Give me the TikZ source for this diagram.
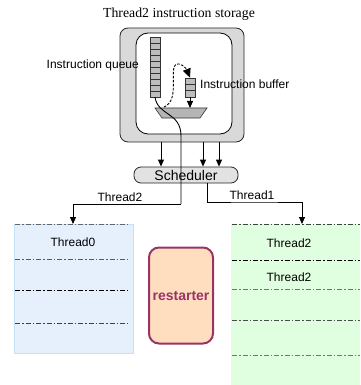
\documentclass[tikz,border=0pt]{standalone}
\usepackage{fontspec}
\setmainfont{Liberation Serif}
\setsansfont{Liberation Sans}
\usetikzlibrary{arrows.meta}
\definecolor{storegray}{HTML}{D9D9D9}
\definecolor{cellgray}{HTML}{BDBDBD}
\definecolor{muxgray}{HTML}{B5B5B5}
\definecolor{schedgray}{HTML}{E2E2E2}
\definecolor{bluefill}{HTML}{E6F0FC}
\definecolor{blueedge}{HTML}{C6E0FA}
\definecolor{greenfill}{HTML}{E0FFE0}
\definecolor{peach}{HTML}{FFDEC0}
\definecolor{plum}{HTML}{993366}
\begin{document}
\begin{tikzpicture}[x=1pt,y=-1pt,
  lbl/.style={font=\sffamily\fontsize{12}{14}\selectfont, inner sep=0pt},
  arr/.style={line width=0.9pt, -{Triangle[length=7pt,width=6pt]}},
  wire/.style={line width=0.9pt},
  cell/.style={draw=black!80, fill=cellgray, line width=0.6pt, inner sep=0pt, minimum width=10pt},
  sepline/.style={line width=0.8pt, dash pattern=on 5pt off 2pt on 1.5pt off 2pt},
  regbox/.style={inner sep=0pt, anchor=north west}]
\useasboundingbox (0,0) rectangle (360,385);

% title
\node[font=\fontsize{13.8}{16}\selectfont, inner sep=0pt] (title) at (179,14) {Thread2 instruction storage};

% storage housing
\node[draw=black!85, fill=storegray, rounded corners=8pt, line width=0.8pt,
      minimum width=124pt, minimum height=114pt, inner sep=0pt] (outer) at (182,85) {};
\node[draw=black, fill=white, rounded corners=12pt, line width=0.8pt,
      minimum width=96pt, minimum height=101pt, inner sep=0pt] (inner) at (184,83.5) {};

% instruction queue (10 slots)
\node[cell, minimum height=60pt] (queue) at (155,67) {};
\foreach \k in {1,...,9}
  \draw[black!80, line width=0.6pt] (150,37+6*\k) -- (160,37+6*\k);

% instruction buffer (3 slots)
\node[cell, minimum height=19pt] (buffer) at (190,87.5) {};
\foreach \k in {1,2}
  \draw[black!80, line width=0.6pt] (185,78+6.33*\k) -- (195,78+6.33*\k);

% selector
\draw[draw=black!80, fill=muxgray, line width=0.6pt] (155,108) -- (207,108) -- (200,118) -- (162,118) -- cycle;
\coordinate (muxtop) at (190,108);
\coordinate (muxleft) at (164,107);

\draw[arr] (buffer.south) -- (muxtop);
\draw[line width=0.9pt, dash pattern=on 2.5pt off 1.5pt, -{Triangle[length=9pt,width=8pt]}]
  (muxleft) .. controls (182,100) and (166,62) .. (179,64)
            .. controls (184,65) and (187,70) .. (buffer.north);

% texts around the storage
\node[lbl, anchor=base east] (qlabel) at (139,69) {Instruction queue};
\node[lbl, anchor=base west] (blabel) at (200,89) {Instruction buffer};

% scheduler
\node[draw=black!85, fill=schedgray, rounded corners=7pt, line width=0.8pt,
      minimum width=104pt, minimum height=16pt, inner sep=0pt,
      font=\sffamily\fontsize{14}{16}\selectfont] (sched) at (186,175) {Scheduler};

\foreach \xx in {161,203,219}
  \draw[arr] (outer.south -| \xx,0) -- (sched.north -| \xx,0);

% thread regions
\node[regbox, draw=blueedge, fill=bluefill, line width=0.6pt,
      minimum width=119pt, minimum height=129pt] (thread0) at (14,224) {};
\node[regbox, fill=greenfill, minimum width=129pt, minimum height=161pt] (thread1) at (231,224) {};

\draw[sepline, black!60] (15,224) -- (128,224);
\draw[sepline, black!65] (15,259) -- (128,259);
\draw[sepline, black]    (15,290) -- (128,290);
\draw[sepline, black!75] (15,323) -- (128,323);

\draw[sepline, black!75] (232,224) -- (360,224);
\draw[sepline, black]    (232,260) -- (360,260);
\draw[sepline, black!55] (232,289) -- (360,289);
\draw[sepline, black!70] (232,320) -- (360,320);
\draw[sepline, black!55] (232,355) -- (360,355);

\node[lbl, anchor=base] (t0name) at (73,246) {Thread0};
\node[lbl, anchor=base] (t1nameA) at (289,247) {Thread2};
\node[lbl, anchor=base] (t1nameB) at (289,281) {Thread2};

% restarter
\node[draw=plum, fill=peach, line width=2pt, rounded corners=10pt,
      minimum width=64pt, minimum height=96pt, inner sep=0pt,
      text=plum, font=\sffamily\bfseries\fontsize{14}{16}\selectfont] (restart) at (181,295.5) {restarter};

% dispatch paths
\coordinate (t0in) at (73,224);
\coordinate (t1in) at (302,224);
\draw[wire] (queue.south) .. controls (158,116) and (181,112) .. (181,136) -- (181,204);
\draw[arr] (181,204) -| (t0in);
\draw[arr] ([xshift=21pt]sched.south) |- (254,202) -| (t1in);

\node[lbl, anchor=base] (br0) at (120,201) {Thread2};
\node[lbl, anchor=base] (br1) at (252,199) {Thread1};
\end{tikzpicture}
\end{document}
